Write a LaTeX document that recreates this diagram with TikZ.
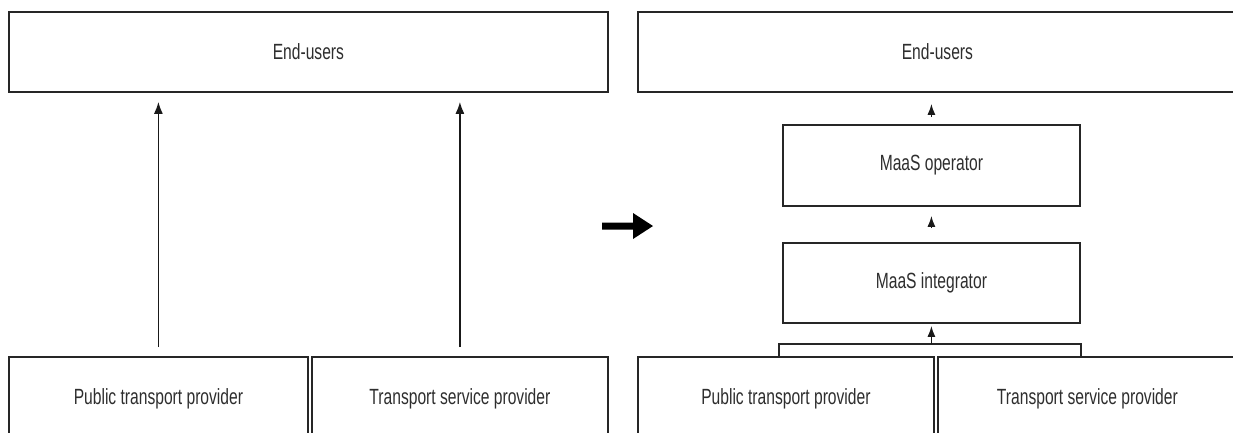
\documentclass[tikz,border=0pt]{standalone}
\usepackage{fontspec}
\setmainfont{Liberation Sans}[FakeStretch=0.71]
\usetikzlibrary{arrows.meta,calc}
\begin{document}
\begin{tikzpicture}[x=1pt,y=-1pt,
  box/.style={draw=black!85, line width=1.8pt, fill=white, inner sep=0pt, anchor=north west,
              text=black!82, font=\fontsize{22}{26}\selectfont},
  conn/.style={draw=black!85, line width=1.8pt},
  arr/.style={draw=black!90, line width=1.6pt, -{Latex[length=12pt,width=9pt]}},
  sarr/.style={draw=black!90, line width=1.6pt, -{Latex[length=11pt,width=8pt]}}]
\clip (0,0) rectangle (1233,432);
\fill[white] (0,0) rectangle (1233,432);
% left panel
\node[box, minimum width=599pt, minimum height=80pt] (EU1) at (8,11) {End-users};
\node[box, minimum width=299pt, minimum height=84pt] (PTP1) at (8,356) {Public transport provider};
\node[box, minimum width=296pt, minimum height=84pt] (TSP1) at (311,356) {Transport service provider};
\draw[arr] ($(PTP1.north)+(0,-9)$) -- ($(EU1.south -| PTP1.north)+(0,9)$);
\draw[arr] ($(TSP1.north)+(0,-9)$) -- ($(EU1.south -| TSP1.north)+(0,9)$);
% big arrow
\fill[black] (602,222.5) -- (633,222.5) -- (633,213) -- (653,226) -- (633,239) -- (633,229.5) -- (602,229.5) -- cycle;
% right panel
\node[box, minimum width=599pt, minimum height=80pt] (EU2) at (637,11) {End-users};
\node[box, minimum width=297pt, minimum height=81pt] (OP) at (782,124) {MaaS operator};
\node[box, minimum width=297pt, minimum height=80pt] (INT) at (782,242) {MaaS integrator};
\node[box, minimum width=296pt, minimum height=84pt] (PTP2) at (637,356) {Public transport provider};
\node[box, minimum width=299pt, minimum height=84pt] (TSP2) at (937,356) {Transport service provider};
\draw[sarr] ($(OP.north)+(0,-7)$) -- ($(EU2.south -| OP.north)+(0,11)$);
\draw[sarr] ($(INT.north)+(0,-14)$) -- ($(OP.south)+(0,9)$);
\coordinate (brL) at (779,344);
\coordinate (brR) at (1081,344);
\draw[conn] (PTP2.north -| brL) -- (brL) -- (brR) -- (brR |- TSP2.north);
\draw[sarr] (INT.south |- brL) -- ($(INT.south)+(0,2)$);
\end{tikzpicture}
\end{document}
